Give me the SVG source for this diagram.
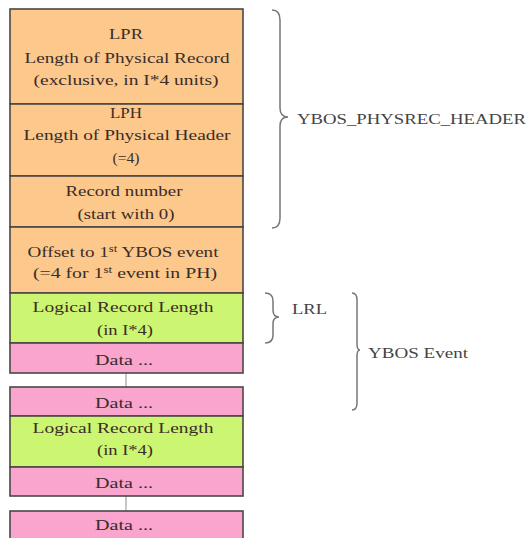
<svg xmlns="http://www.w3.org/2000/svg" width="532" height="538" viewBox="0 0 532 538">
<style>
.box{stroke:#4d4646;stroke-width:1.6}
.or{fill:#fcc88c}
.gr{fill:#ccf571}
.pk{fill:#f9a5cd}
text{font-family:"Liberation Serif","Times New Roman",serif;font-size:15px;fill:#3a2c28;text-anchor:middle}
.lbl{fill:#444;text-anchor:start}
.brace{fill:none;stroke:#777;stroke-width:1.5}
.conn{stroke:#a0a0a0;stroke-width:1.2}
</style>
<rect width="532" height="538" fill="#ffffff"/>
<g id="connectors">
<line class="conn" x1="126" y1="373" x2="126" y2="387"/>
<line class="conn" x1="126" y1="496" x2="126" y2="511"/>
</g>
<g id="lpr">
<rect class="box or" x="10" y="9" width="233" height="95"/>
<text x="126" y="39" textLength="34" lengthAdjust="spacingAndGlyphs">LPR</text>
<text x="127" y="63" textLength="205" lengthAdjust="spacingAndGlyphs">Length of Physical Record</text>
<text x="126" y="85" textLength="185" lengthAdjust="spacingAndGlyphs">(exclusive, in I*4 units)</text>
</g>
<g id="lph">
<rect class="box or" x="10" y="104" width="233" height="72"/>
<text x="126" y="118" textLength="32" lengthAdjust="spacingAndGlyphs">LPH</text>
<text x="127" y="140" textLength="207" lengthAdjust="spacingAndGlyphs">Length of Physical Header</text>
<text x="126" y="163" textLength="27" lengthAdjust="spacingAndGlyphs">(=4)</text>
</g>
<g id="recnum">
<rect class="box or" x="10" y="176" width="233" height="51"/>
<text x="124" y="196" textLength="117" lengthAdjust="spacingAndGlyphs">Record number</text>
<text x="126" y="219" textLength="97" lengthAdjust="spacingAndGlyphs">(start with 0)</text>
</g>
<g id="offset">
<rect class="box or" x="10" y="227" width="233" height="66"/>
<text x="123" y="257" textLength="191" lengthAdjust="spacingAndGlyphs">Offset to 1<tspan font-size="10" dy="-5">st</tspan><tspan dy="5"> YBOS event</tspan></text>
<text x="125" y="278" textLength="184" lengthAdjust="spacingAndGlyphs">(=4 for 1<tspan font-size="10" dy="-5">st</tspan><tspan dy="5"> event in PH)</tspan></text>
</g>
<g id="lrl1">
<rect class="box gr" x="10" y="293" width="233" height="50"/>
<text x="123" y="312" textLength="181" lengthAdjust="spacingAndGlyphs">Logical Record Length</text>
<text x="125" y="335" textLength="56" lengthAdjust="spacingAndGlyphs">(in I*4)</text>
</g>
<g id="data1">
<rect class="box pk" x="10" y="343" width="233" height="30"/>
<text x="124" y="365" textLength="58" lengthAdjust="spacingAndGlyphs">Data ...</text>
</g>
<g id="data2">
<rect class="box pk" x="10" y="387" width="233" height="29"/>
<text x="124" y="408" textLength="58" lengthAdjust="spacingAndGlyphs">Data ...</text>
</g>
<g id="lrl2">
<rect class="box gr" x="10" y="416" width="233" height="51"/>
<text x="123" y="433" textLength="181" lengthAdjust="spacingAndGlyphs">Logical Record Length</text>
<text x="125" y="455" textLength="56" lengthAdjust="spacingAndGlyphs">(in I*4)</text>
</g>
<g id="data3">
<rect class="box pk" x="10" y="467" width="233" height="29"/>
<text x="124" y="488" textLength="58" lengthAdjust="spacingAndGlyphs">Data ...</text>
</g>
<g id="data4">
<rect class="box pk" x="10" y="511" width="233" height="32"/>
<text x="124" y="530" textLength="58" lengthAdjust="spacingAndGlyphs">Data ...</text>
</g>
<g id="header-brace">
<path class="brace" d="M272,10 Q280,10 280,20 L280,108 Q280,117 288,117 Q280,117 280,126 L280,218 Q280,228 272,228"/>
<text class="lbl" x="297" y="124" textLength="229" lengthAdjust="spacingAndGlyphs">YBOS_PHYSREC_HEADER</text>
</g>
<g id="lrl-brace">
<path class="brace" d="M265,293 Q273,293 273,301 L273,310 Q273,317 279,317 Q273,317 273,324 L273,335 Q273,343 265,343"/>
<text class="lbl" x="292" y="314" textLength="35" lengthAdjust="spacingAndGlyphs">LRL</text>
</g>
<g id="event-brace">
<path class="brace" d="M352,293 Q357,293 357,300 L357,344 Q357,350 360,350 Q357,350 357,356 L357,403 Q357,410 352,410"/>
<text class="lbl" x="368" y="358" textLength="100" lengthAdjust="spacingAndGlyphs">YBOS Event</text>
</g>
</svg>
